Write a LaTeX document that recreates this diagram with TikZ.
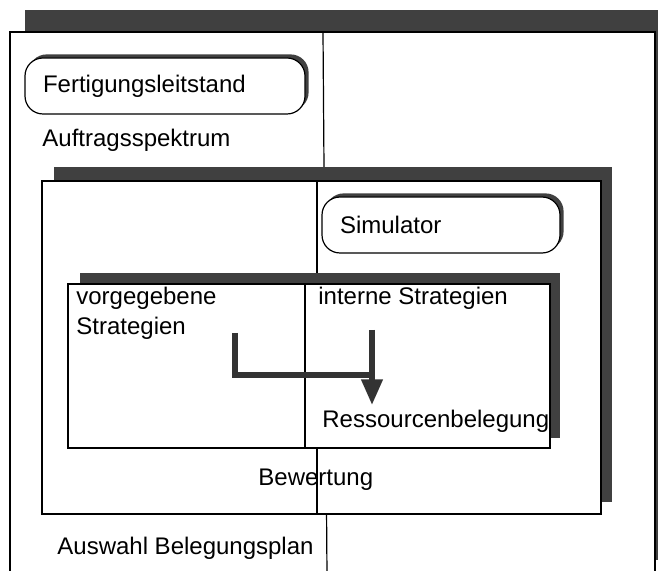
\documentclass[tikz,border=0pt]{standalone}
\usepackage{fontspec}
\setmainfont{Liberation Sans}
\usetikzlibrary{arrows.meta,shadows}

\begin{document}
\begin{tikzpicture}[
            x=0.5pt, y=-0.5pt,
            frame/.style={draw,fill=white,line width=0.6pt},
            sh/.style={fill=black!75},
            txt/.style={font=\fontsize{12}{15}\selectfont,inner sep=0pt,anchor=west,align=left},
            rbox/.style={draw,fill=white,line width=0.6pt,rectangle,rounded corners=9pt,
                minimum height=28pt,inner xsep=9pt,font=\fontsize{12}{15}\selectfont,
                drop shadow={shadow xshift=1.8pt,shadow yshift=1.8pt,fill=black!75,opacity=1}},
            bar/.style={draw=black!80,line width=3.4pt,line join=miter}
        ]

        \useasboundingbox (0,0) rectangle (658,571);
        \clip (0,0) rectangle (658,571);

        \fill[sh] (25,10) rectangle (680,560);
        \draw[frame] (10,32) rectangle (655,600);
        \draw[line width=0.6pt] (323,32) -- (327,575);

        \fill[sh] (54,167) rectangle (612,502);
        \draw[frame] (42,181) rectangle (601,514);
        \draw[line width=0.6pt] (317,181) -- (317,514);

        \fill[sh] (80,273) rectangle (560,438);
        \draw[frame] (68,284) rectangle (550,448);
        \draw[line width=0.6pt] (305,284) -- (305,448);

        \node[rbox,text width=122pt] (leit) at (165,86) {Fertigungsleitstand};
        \node[txt] (auftrag) at (42,140) {Auftragsspektrum};
        \node[rbox,text width=101pt] (sim) at (441,225) {Simulator};
        \node[txt] (vorg) at (76,313) {vorgegebene\\Strategien};
        \node[txt] (intern) at (318,298) {interne Strategien};
        \node[txt] (res) at (322,421) {Ressourcenbelegung};
        \node[txt] (bew) at (258,480) {Bewertung};
        \node[txt] (auswahl) at (57,548) {Auswahl Belegungsplan};

        \coordinate (vs) at (235,333);
        \coordinate (is) at (372,330);
        \coordinate (merge) at (372,375);

        \draw[bar] (vs) |- (merge);
        \draw[bar,-{Triangle[width=10pt,length=13pt]}] (is) -- ([yshift=2pt]res.north -| is);

\end{tikzpicture}
\end{document}
